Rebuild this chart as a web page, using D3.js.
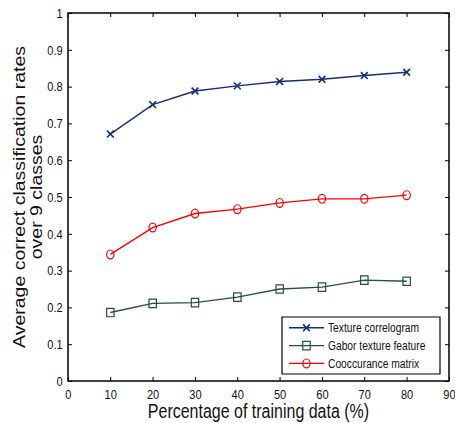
<!DOCTYPE html>
<html lang="en">
<head>
  <meta charset="UTF-8">
  <title>Classification rates vs training data</title>
  <script src="https://d3js.org/d3.v7.min.js"></script>
  <style>
    body { margin: 0; background: #fff; }
    text { font-family: "Liberation Sans", Arial, sans-serif; }
    line, path, rect, circle { vector-effect: non-scaling-stroke; }
  </style>
</head>
<body>
  <svg id="chart" width="455" height="423"></svg>

  <script>
    // data
    const trainPct = [10, 20, 30, 40, 50, 60, 70, 80];
    const texture = [0.671, 0.751, 0.788, 0.802, 0.814, 0.820, 0.830, 0.839];
    const gabor = [0.186, 0.211, 0.213, 0.228, 0.250, 0.255, 0.274, 0.271];
    const cooc = [0.344, 0.417, 0.455, 0.467, 0.484, 0.495, 0.495, 0.505];
    const xTicks = [0, 10, 20, 30, 40, 50, 60, 70, 80, 90];
    const yTicks = [0, 0.1, 0.2, 0.3, 0.4, 0.5, 0.6, 0.7, 0.8, 0.9, 1];

    const series = [
      { name: 'Texture correlogram', values: texture, color: '#142f78', marker: 'x' },
      { name: 'Gabor texture feature', values: gabor, color: '#245236', marker: 'square' },
      { name: 'Cooccurance matrix', values: cooc, color: '#ff0000', marker: 'circle' }
    ];

    // the original figure is stretched vertically, so draw in a horizontally squeezed group
    const sx = 0.82;
    const svg = d3.select('#chart');
    const root = svg.append('g').attr('transform', `scale(${sx},1)`);
    const plotL = 68, plotR = 449, plotT = 13, plotB = 381;

    const x = d3.scaleLinear().domain([0, 90]).range([plotL / sx, plotR / sx]);
    const y = d3.scaleLinear().domain([0, 1]).range([plotB, plotT]);

    const fmtY = d => d === 0 ? '0' : d === 1 ? '1' : d3.format('.1f')(d);

    // axes with inward ticks, mirrored on top/right
    const axB = root.append('g').attr('transform', `translate(0,${plotB})`)
      .call(d3.axisBottom(x).tickValues(xTicks).tickSize(-4).tickPadding(8).tickFormat(d3.format('d')));
    const axL = root.append('g').attr('transform', `translate(${plotL / sx},0)`)
      .call(d3.axisLeft(y).tickValues(yTicks).tickSize(-4 / sx).tickPadding(6.5).tickFormat(fmtY));
    const axT = root.append('g').attr('transform', `translate(0,${plotT})`)
      .call(d3.axisTop(x).tickValues(xTicks).tickSize(-4).tickFormat(''));
    const axR = root.append('g').attr('transform', `translate(${plotR / sx},0)`)
      .call(d3.axisRight(y).tickValues(yTicks).tickSize(-4 / sx).tickFormat(''));

    [axB, axL, axT, axR].forEach(a => {
      a.select('.domain').remove();
      a.selectAll('line').attr('stroke', '#000');
      a.selectAll('text').attr('font-size', 13.5).attr('fill', '#111');
    });

    root.append('rect')
      .attr('x', plotL / sx).attr('y', plotT)
      .attr('width', (plotR - plotL) / sx).attr('height', plotB - plotT)
      .attr('fill', 'none').attr('stroke', '#000').attr('stroke-width', 1.5);

    function drawMarker(g, type, cx, cy, color) {
      if (type === 'x') {
        const hx = 3.4 / sx, hy = 3.4;
        g.append('path')
          .attr('d', `M${cx - hx},${cy - hy}L${cx + hx},${cy + hy}M${cx - hx},${cy + hy}L${cx + hx},${cy - hy}`)
          .attr('stroke', color).attr('stroke-width', 1.6);
      } else if (type === 'square') {
        const w = 7.4 / sx, h = 8.4;
        g.append('rect').attr('x', cx - w / 2).attr('y', cy - h / 2)
          .attr('width', w).attr('height', h)
          .attr('fill', 'none').attr('stroke', color).attr('stroke-width', 1.2);
      } else {
        g.append('circle').attr('cx', cx).attr('cy', cy).attr('r', 4.4)
          .attr('fill', 'none').attr('stroke', color).attr('stroke-width', 1.2);
      }
    }

    const line = d3.line().x((d, i) => x(trainPct[i])).y(d => y(d));

    series.forEach(s => {
      const g = root.append('g');
      g.append('path').datum(s.values)
        .attr('d', line).attr('fill', 'none')
        .attr('stroke', s.color).attr('stroke-width', 1.4);
      s.values.forEach((v, i) => drawMarker(g, s.marker, x(trainPct[i]), y(v), s.color));
    });

    // legend
    const lg = root.append('g');
    lg.append('rect').attr('x', 282 / sx).attr('y', 317).attr('width', 158 / sx).attr('height', 57)
      .attr('fill', '#fff').attr('stroke', '#000').attr('stroke-width', 1.2);
    series.forEach((s, i) => {
      const ly = 327.8 + i * 17.8;
      lg.append('line').attr('x1', 289 / sx).attr('x2', 324 / sx).attr('y1', ly).attr('y2', ly)
        .attr('stroke', s.color).attr('stroke-width', 1.4);
      drawMarker(lg, s.marker, 306.5 / sx, ly, s.color);
      lg.append('text').attr('x', 328 / sx).attr('y', ly + 4.5)
        .attr('font-size', 12.5).attr('fill', '#111').text(s.name);
    });

    // axis titles
    root.append('text').attr('x', (plotL + plotR) / 2 / sx).attr('y', 418)
      .attr('text-anchor', 'middle').attr('font-size', 19.5).attr('fill', '#111')
      .text('Percentage of training data (%)');

    const yt = root.append('text')
      .attr('transform', `translate(${25 / sx},${(plotT + plotB) / 2}) rotate(-90)`)
      .attr('text-anchor', 'middle').attr('font-size', 19.5).attr('fill', '#111');
    yt.append('tspan').attr('x', 0).attr('dy', 0).text('Average correct classification rates');
    yt.append('tspan').attr('x', 0).attr('dy', 17 / sx).text('over 9 classes');
  </script>
</body>
</html>
